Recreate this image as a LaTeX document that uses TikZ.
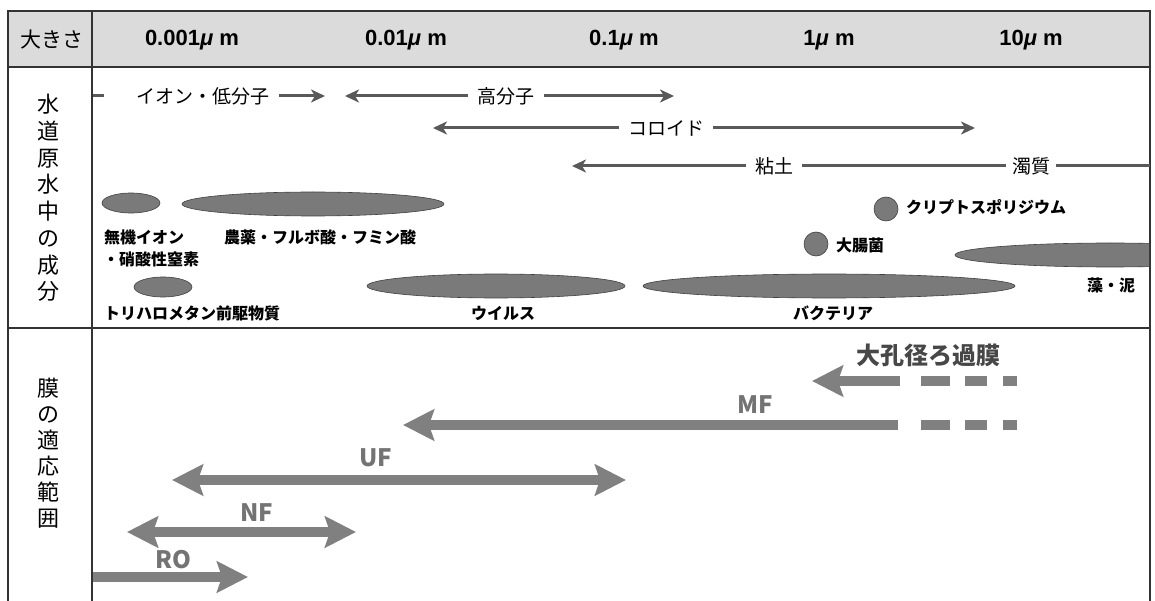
\documentclass[tikz,border=0pt]{standalone}
\usepackage{fontspec}
\setmainfont{Noto Sans CJK JP}
\newfontfamily\latfont{Liberation Sans}
\usetikzlibrary{arrows.meta}

\tikzset{
    rule/.style={line width=1.6pt, draw=black!80},
    sizelbl/.style={font=\latfont\bfseries\fontsize{22}{24}\selectfont, inner sep=0pt},
    vlbl/.style={font=\fontsize{22}{26.7}\selectfont, align=center, inner sep=0pt},
    lbl/.style={font=\fontsize{19}{22}\selectfont, inner xsep=9pt, inner ysep=0pt},
    thinln/.style={line width=3pt, draw=black!65},
    thinarr/.style={thinln, -{Stealth[length=14pt,width=13pt,inset=4pt]}},
    smalltxt/.style={font=\bfseries\fontsize{16}{18}\selectfont, inner sep=0pt},
    blob/.style={fill=black!52, draw=black!75, line width=0.6pt},
    fat/.style={line width=10pt, draw=black!50},
    fathead/.style={-{Stealth[length=31pt,width=31pt,inset=5pt]}},
    fatboth/.style={{Stealth[length=31pt,width=31pt,inset=5pt]}-{Stealth[length=31pt,width=31pt,inset=5pt]}},
    memlbl/.style={font=\bfseries\fontsize{24}{26}\selectfont, text=black!55, inner sep=0pt}
}

\begin{document}
\begin{tikzpicture}[x=1pt, y=-1pt]
    \useasboundingbox (0,0) rectangle (1155,601);

    % Header
    \fill[black!14] (8,11) rectangle (1150,67);
    \draw[rule] (8,11) rectangle (1150,67);
    \draw[rule] (8,67) -- (8,601);
    \draw[rule] (92,11) -- (92,601);
    \draw[rule] (1150,67) -- (1150,601);
    \draw[rule] (8,328) -- (1150,328);

    \node[font=\fontsize{21}{24}\selectfont] (okisa) at (52,40) {大きさ};
    \node[sizelbl] (s1) at (192,40) {0.001\textit{μ} m};
    \node[sizelbl] (s2) at (406,40) {0.01\textit{μ} m};
    \node[sizelbl] (s3) at (624,40) {0.1\textit{μ} m};
    \node[sizelbl] (s4) at (829,40) {1\textit{μ} m};
    \node[sizelbl] (s5) at (1031,40) {10\textit{μ} m};

    % Row titles
    \node[vlbl] (suigen) at (48,198) {水\\道\\原\\水\\中\\の\\成\\分};
    \node[vlbl, font=\fontsize{22}{26}\selectfont] (maku) at (48,453) {膜\\の\\適\\応\\範\\囲};

    % Size ranges
    \coordinate (ionA) at (93,96);
    \coordinate (ionB) at (104,96);
    \coordinate (ionR) at (325,96);
    \node[lbl] (ion) at (203,96) {イオン・低分子};
    \draw[thinln] (ionA) -- (ionB);
    \draw[thinarr] (ion) -- (ionR);

    \coordinate (kobunL) at (345,96);
    \coordinate (kobunR) at (674,96);
    \node[lbl] (kobun) at (506,96) {高分子};
    \draw[thinarr] (kobun) -- (kobunL);
    \draw[thinarr] (kobun) -- (kobunR);

    \coordinate (colL) at (433,128);
    \coordinate (colR) at (975,128);
    \node[lbl] (colloid) at (666,128) {コロイド};
    \draw[thinarr] (colloid) -- (colL);
    \draw[thinarr] (colloid) -- (colR);

    \coordinate (nenL) at (572,166);
    \coordinate (dakuR) at (1150,166);
    \node[lbl] (nendo) at (774,166) {粘土};
    \node[lbl, inner xsep=6pt] (dakushitsu) at (1031,166) {濁質};
    \draw[thinarr] (nendo) -- (nenL);
    \draw[thinln] (nendo) -- (dakushitsu);
    \draw[thinln] (dakushitsu) -- (dakuR);

    % Components
    \fill[blob] (131,203) ellipse (29 and 10);
    \fill[blob] (313,204) ellipse (131 and 12);
    \fill[blob] (163,287) ellipse (29 and 10);
    \fill[blob] (496,286) ellipse (129 and 12);
    \fill[blob] (829,286) ellipse (186 and 12);
    \begin{scope}
        \clip (8,67) rectangle (1149,328);
        \fill[blob] (1110,255) ellipse (155 and 12);
    \end{scope}
    \fill[blob] (886,209) circle (12);
    \fill[blob] (816,244) circle (12);

    \node[smalltxt, anchor=west] (muki) at (104,237) {無機イオン};
    \node[smalltxt, anchor=west] (noyaku) at (224,237) {農薬・フルボ酸・フミン酸};
    \node[smalltxt, anchor=west] (shosan) at (103,259) {・硝酸性窒素};
    \node[smalltxt, anchor=west] (thm) at (104,313) {トリハロメタン前駆物質};
    \node[smalltxt] (virus) at (503,313) {ウイルス};
    \node[smalltxt] (bact) at (833,313) {バクテリア};
    \node[smalltxt] (mo) at (1111,285) {藻・泥};
    \node[smalltxt, anchor=west] (crypto) at (906,207) {クリプトスポリジウム};
    \node[smalltxt, anchor=west] (daicho) at (836,245) {大腸菌};

    % Membranes
    \coordinate (dkR) at (900,381);
    \coordinate (dkL) at (812,381);
    \coordinate (dkD) at (921,381);
    \coordinate (dkE) at (1017,381);
    \node[memlbl, text=black!72] (daikou) at (928,355) {大孔径ろ過膜};
    \draw[fat, fathead] (dkR) -- (dkL);
    \draw[fat, dash pattern=on 29pt off 15pt on 22pt off 16pt on 14pt off 200pt] (dkD) -- (dkE);

    \coordinate (mfR) at (898,425);
    \coordinate (mfL) at (403,425);
    \coordinate (mfD) at (921,425);
    \coordinate (mfE) at (1017,425);
    \node[memlbl] (mf) at (755,405) {MF};
    \draw[fat, fathead] (mfR) -- (mfL);
    \draw[fat, dash pattern=on 29pt off 15pt on 22pt off 16pt on 14pt off 200pt] (mfD) -- (mfE);

    \coordinate (ufL) at (172,480);
    \coordinate (ufR) at (626,480);
    \node[memlbl] (uf) at (376,458) {UF};
    \draw[fat, fatboth] (ufL) -- (ufR);

    \coordinate (nfL) at (127,532);
    \coordinate (nfR) at (356,532);
    \node[memlbl] (nf) at (257,513) {NF};
    \draw[fat, fatboth] (nfL) -- (nfR);

    \coordinate (roL) at (93,577);
    \coordinate (roR) at (248,577);
    \node[memlbl] (ro) at (173,560) {RO};
    \draw[fat, fathead] (roL) -- (roR);

\end{tikzpicture}
\end{document}
